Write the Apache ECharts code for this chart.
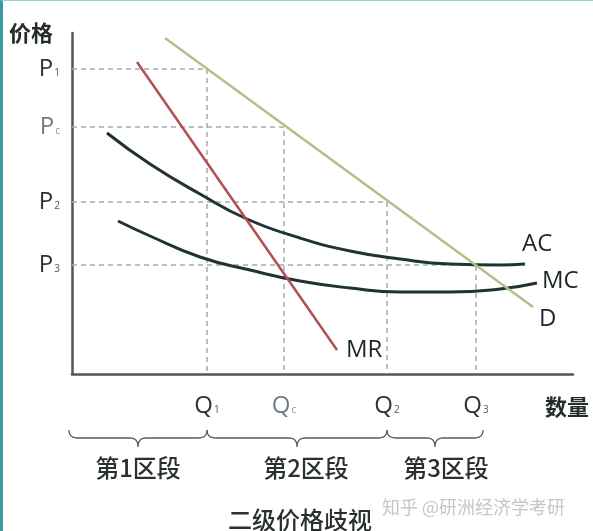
<!DOCTYPE html>
<html>
<head>
<meta charset="utf-8">
<script src="https://cdn.jsdelivr.net/npm/echarts@6/dist/echarts.min.js"></script>
<style>
  html, body { margin: 0; padding: 0; background: #fff; }
  #main { width: 593px; height: 531px; }
  #edge { position: absolute; left: 0; top: 0; width: 593px; height: 531px; box-sizing: border-box;
          border-left: 3px solid #3c9ba1; border-top: 1px solid #9fd0d2; pointer-events: none; }
</style>
</head>
<body>
<div id="main"></div>
<div id="edge"></div>
<script>
// 坐标以像素尺度估读：x 从纵轴起算，y 从横轴起算
const qTicks = [135, 212, 315, 404];
const qNames = ['1', 'c', '2', '3'];
const pTicks = [305, 247, 172, 109];
const pNames = ['1', 'c', '2', '3'];

const dX = [93, 461];
const dY = [336, 67];
const mrX = [65, 265];
const mrY = [312, 24];
const acX = [35, 78, 128, 175, 228, 278, 328, 378, 428, 453];
const acY = [241, 210, 180, 155, 136, 123, 115, 110, 109, 110];
const mcX = [46, 78, 128, 178, 228, 278, 328, 378, 428, 465];
const mcY = [153, 138, 117, 104, 93, 86, 82, 82, 85, 91];

const segNames = ['第1区段', '第2区段', '第3区段'];

const latin = '"Open Sans", "Noto Sans", sans-serif';
const cjk = '"Noto Sans CJK SC", sans-serif';

function toPts(xs, ys) {
  return xs.map((x, i) => [x, ys[i]]);
}

const myChart = echarts.init(document.getElementById('main'));

// 虚线：P 到 Q 的折线
const guideSeries = pTicks.map((p, i) => ({
  type: 'line',
  data: [[0, p], [qTicks[i], p], [qTicks[i], 0]],
  symbol: 'none',
  z: 1,
  lineStyle: { color: '#a3a9b0', width: 1.5, type: [5, 4] },
}));

function subLabel(letter, name) {
  const dim = name === 'c';
  return dim ? `{md|${letter}}{sd|${name}}` : `{m|${letter}}{s|${name}}`;
}

const labelRich = {
  m: { fontSize: 24, fontFamily: latin, color: '#2c3336', lineHeight: 28 },
  s: { fontSize: 10, fontFamily: latin, color: '#555', verticalAlign: 'bottom', padding: [0, 0, 5, 1] },
  md: { fontSize: 24, fontFamily: latin, color: '#6d7c86', lineHeight: 28 },
  sd: { fontSize: 10, fontFamily: latin, color: '#8a969e', verticalAlign: 'bottom', padding: [0, 0, 5, 1] },
};

const curveLabel = { fontSize: 24, fontFamily: latin, color: '#1e2628' };

const option = {
  animation: false,
  grid: { left: 72, top: 33, width: 501, height: 341 },
  xAxis: {
    type: 'value',
    min: 0,
    max: 501,
    splitLine: { show: false },
    axisTick: { show: false },
    axisLine: { lineStyle: { color: '#4b5859', width: 2.5 } },
    axisLabel: {
      customValues: qTicks,
      margin: 18,
      formatter(v) {
        const i = qTicks.indexOf(v);
        return subLabel('Q', qNames[i]);
      },
      rich: labelRich,
    },
  },
  yAxis: {
    type: 'value',
    min: 0,
    max: 341,
    splitLine: { show: false },
    axisTick: { show: false },
    axisLine: { lineStyle: { color: '#4b5859', width: 2.5 } },
    axisLabel: {
      customValues: pTicks,
      margin: 12,
      formatter(v) {
        const i = pTicks.indexOf(v);
        return subLabel('P', pNames[i]);
      },
      rich: labelRich,
    },
  },
  series: [
    ...guideSeries,
    {
      name: 'AC',
      type: 'line',
      data: toPts(acX, acY),
      smooth: 0.5,
      symbol: 'none',
      z: 3,
      lineStyle: { color: '#1f3430', width: 3 },
      endLabel: { show: true, formatter: 'AC', distance: 0, offset: [-3, -20], ...curveLabel },
    },
    {
      name: 'MC',
      type: 'line',
      data: toPts(mcX, mcY),
      smooth: 0.5,
      symbol: 'none',
      z: 3,
      lineStyle: { color: '#1f3430', width: 3 },
      endLabel: { show: true, formatter: 'MC', distance: 5, offset: [0, -2], ...curveLabel },
    },
    {
      name: 'D',
      type: 'line',
      data: toPts(dX, dY),
      symbol: 'none',
      z: 4,
      lineStyle: { color: '#adc28b', width: 2.5 },
      endLabel: { show: true, formatter: 'D', distance: 6, offset: [0, 12], ...curveLabel },
    },
    {
      name: 'MR',
      type: 'line',
      data: toPts(mrX, mrY),
      symbol: 'none',
      z: 4,
      lineStyle: { color: '#b24f55', width: 2.5 },
      endLabel: { show: true, formatter: 'MR', distance: 9, offset: [0, 0], ...curveLabel },
    },
  ],
};

myChart.setOption(option);

// 大括号：从各 Q 点换算到像素
const braceRanges = [[-3, qTicks[0]], [qTicks[0], qTicks[2]], [qTicks[2], qTicks[3] + 7]];
const yTop = 430;
const yMid = 438;
const yTip = 447;

function quad(p0, c, p1, n) {
  const out = [];
  for (let k = 0; k <= n; k++) {
    const t = k / n;
    const u = 1 - t;
    out.push([u * u * p0[0] + 2 * u * t * c[0] + t * t * p1[0],
      u * u * p0[1] + 2 * u * t * c[1] + t * t * p1[1]]);
  }
  return out;
}

const braces = braceRanges.map(([a, b]) => {
  const x0 = myChart.convertToPixel({ gridIndex: 0 }, [a, 0])[0];
  const x1 = myChart.convertToPixel({ gridIndex: 0 }, [b, 0])[0];
  const xm = (x0 + x1) / 2;
  const pts = [
    ...quad([x0, yTop], [x0, yMid], [x0 + 9, yMid], 8),
    ...quad([xm - 8, yMid], [xm, yMid], [xm, yTip], 8),
    ...quad([xm, yTip], [xm, yMid], [xm + 8, yMid], 8),
    ...quad([x1 - 9, yMid], [x1, yMid], [x1, yTop], 8),
  ];
  return {
    type: 'polyline',
    shape: { points: pts },
    style: { fill: 'none', stroke: '#555b5c', lineWidth: 1.3 },
  };
});

const segX = [138, 306, 446];
const texts = segNames.map((t, i) => ({
  type: 'text',
  x: segX[i],
  y: 468,
  style: { text: t, font: `500 24px ${cjk}`, fill: '#2a2f30', textAlign: 'center', textVerticalAlign: 'middle' },
}));

function txt(t, x, y, size, color, align, weight) {
  return {
    type: 'text',
    x,
    y,
    style: { text: t, font: `${weight || 'normal'} ${size}px ${cjk}`, fill: color,
             textAlign: align, textVerticalAlign: 'middle' },
  };
}

myChart.setOption({
  graphic: [
    ...braces,
    ...texts,
    txt('价格', 9, 33, 22, '#262b2c', 'left', 'bold'),
    txt('数量', 545, 407, 22, '#262b2c', 'left', 'bold'),
    txt('二级价格歧视', 300, 520, 24, '#2a2f30', 'center', '500'),
    txt('知乎 @研洲经济学考研', 382, 507, 18, '#c4c6c8', 'left'),
  ],
});
</script>
</body>
</html>
